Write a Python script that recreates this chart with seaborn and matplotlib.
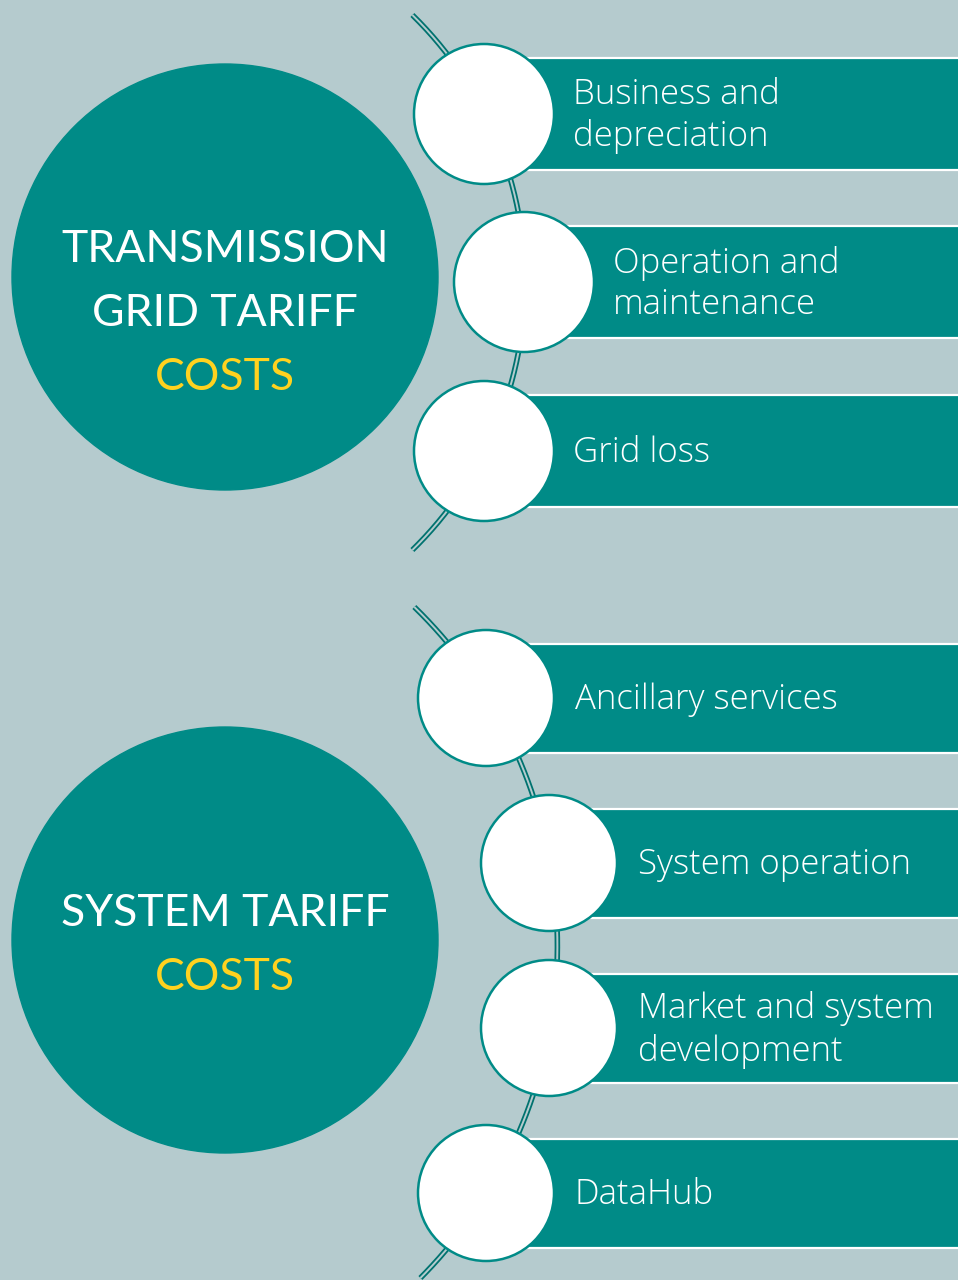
import numpy as np
import matplotlib
matplotlib.use("Agg")
import matplotlib.pyplot as plt
import seaborn as sns
from matplotlib.patches import Circle, Rectangle

# colours
BG = "#B5CBCE"
TEAL = "#008B87"
DARK = "#00726F"
YELLOW = "#FFD21F"

# groups and their items
group_titles = ["TRANSMISSION\nGRID TARIFF", "SYSTEM TARIFF"]
group_tags = ["COSTS", "COSTS"]
top_items = ["Business and\ndepreciation", "Operation and\nmaintenance", "Grid loss"]
bottom_items = ["Ancillary services", "System operation",
                "Market and system\ndevelopment", "DataHub"]

# layout (pixels, y down)
big_centers = [(225, 277), (225, 940)]
big_r = 213
top_cx = [484, 524, 484]
top_cy = [114, 282, 451]
bot_cx = [486, 549, 549, 486]
bot_cy = [698, 863, 1028, 1193]
small_r = [70, 68]
bar_h = [112, 109]
arcs = [dict(c=(151, 282.5), R=374, y0=15, y1=550),
        dict(c=(85.4, 945.5), R=472, y0=607, y1=1278)]

sns.set_theme(style="white")
plt.rcParams['font.family'] = ['Open Sans', 'DejaVu Sans']

fig = plt.figure(figsize=(9.58, 12.8), dpi=100)
fig.patch.set_facecolor(BG)
ax = fig.add_axes([0, 0, 1, 1])
ax.set_facecolor(BG)
ax.set_xlim(0, 958)
ax.set_ylim(1280, 0)
ax.axis("off")

# big circles with titles
for (cx, cy), title, tag in zip(big_centers, group_titles, group_tags):
    ax.add_patch(Circle((cx, cy), big_r, color=TEAL, zorder=1))
    lines = title.split("\n") + [tag]
    for i, line in enumerate(lines):
        ax.text(cx, cy - 27 + i * 64, line, ha="center", va="center",
                fontsize=32, color=YELLOW if i == len(lines) - 1 else "white",
                family=["Lato", "DejaVu Sans"], zorder=5)

# connecting arcs
for a in arcs:
    (acx, acy), R = a["c"], a["R"]
    t0 = np.degrees(np.arcsin((a["y0"] - acy) / R))
    t1 = np.degrees(np.arcsin((a["y1"] - acy) / R))
    t = np.radians(np.linspace(t0, t1, 300))
    xs = acx + R * np.cos(t)
    ys = acy + R * np.sin(t)
    ax.plot(xs, ys, color=DARK, lw=4.0, solid_capstyle="butt", zorder=2)
    ax.plot(xs, ys, color=BG, lw=1.4, solid_capstyle="butt", zorder=2.1)

# bars, small circles and labels
for cxs, cys, items, r, h in [(top_cx, top_cy, top_items, small_r[0], bar_h[0]),
                              (bot_cx, bot_cy, bottom_items, small_r[1], bar_h[1])]:
    for cx, cy, label in zip(cxs, cys, items):
        ax.add_patch(Rectangle((cx, cy - h / 2), 958 - cx + 5, h,
                               facecolor=TEAL, edgecolor="white", lw=1.6, zorder=3))
        ax.add_patch(Circle((cx, cy), r, facecolor="white", edgecolor=TEAL,
                            lw=1.8, zorder=4))
        ax.text(cx + 89, cy + 2, label, ha="left", va="center", fontsize=25,
                fontweight="light", color="white", linespacing=1.27, zorder=5)

fig.savefig("out.png", dpi=100, facecolor=BG)
